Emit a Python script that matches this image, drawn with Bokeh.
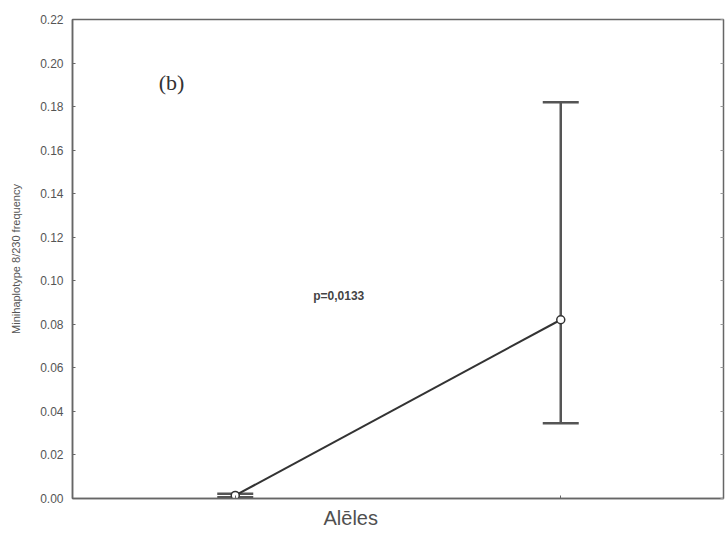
from bokeh.plotting import figure
from bokeh.models import Whisker, ColumnDataSource, LinearAxis, FixedTicker, Label, Range1d, TeeHead, Title
from bokeh.embed import file_html
from bokeh.resources import INLINE

# ---- data ----
groups = [1, 2]
means = [0.0014, 0.0821]
lower = [0.0006, 0.0346]
upper = [0.0022, 0.1820]
y_ticks = [0.00, 0.02, 0.04, 0.06, 0.08, 0.10, 0.12, 0.14, 0.16, 0.18, 0.20, 0.22]
y_tick_labels = ["0.00", "0.02", "0.04", "0.06", "0.08", "0.10", "0.12", "0.14", "0.16", "0.18", "0.20", "0.22"]
y_title = "Minihaplotype 8/230 frequency"
x_title = "Alēles"
p_text = "p=0,0133"
panel_text = "(b)"

src = ColumnDataSource(dict(x=groups, y=means, lo=lower, hi=upper))

p = figure(width=725, height=538, output_backend="svg", toolbar_location=None,
           x_range=Range1d(0.5, 2.5), y_range=Range1d(0, 0.22),
           min_border_left=72, min_border_top=19, min_border_right=2, min_border_bottom=40)
p.background_fill_color = "white"
p.border_fill_color = "white"
p.xgrid.visible = False
p.ygrid.visible = False
p.outline_line_color = "#666666"
p.outline_line_width = 1.5

axc = "#666666"
tc = "#555555"
font = "Liberation Sans"

ya = p.yaxis[0]
ya.ticker = FixedTicker(ticks=y_ticks)
ya.major_label_overrides = {t: l for t, l in zip(y_ticks, y_tick_labels)}
ya.major_tick_in = 3
ya.major_tick_out = 0
ya.minor_tick_in = 0
ya.minor_tick_out = 0
ya.major_label_standoff = 9
ya.major_label_text_font = font
ya.major_label_text_font_size = "12px"
ya.major_label_text_color = tc
ya.axis_line_color = axc
ya.axis_line_width = 1.5
ya.major_tick_line_color = axc
ya.axis_label = y_title
ya.axis_label_text_font = font
ya.axis_label_text_font_size = "11px"
ya.axis_label_text_font_style = "normal"
ya.axis_label_text_color = tc
ya.axis_label_standoff = 15

xa = p.xaxis[0]
xa.ticker = FixedTicker(ticks=groups)
xa.major_label_overrides = {g: "" for g in groups}
xa.major_label_standoff = 0
xa.major_tick_in = 3
xa.major_tick_out = 0
xa.minor_tick_in = 0
xa.minor_tick_out = 0
xa.axis_line_color = axc
xa.axis_line_width = 1.5
xa.major_tick_line_color = axc

ra = LinearAxis(ticker=FixedTicker(ticks=y_ticks),
                major_label_overrides={t: "" for t in y_ticks},
                major_label_standoff=0, major_tick_in=3, major_tick_out=0,
                minor_tick_in=0, minor_tick_out=0, axis_line_color=None,
                major_tick_line_color="#999999")
p.add_layout(ra, "right")

# x title as a left-aligned title below the frame
p.add_layout(Title(text=x_title, align="left", offset=251, standoff=13,
                   text_font=font, text_font_size="20px", text_font_style="normal",
                   text_color="#505050"), "below")

# connecting line
p.line("x", "y", source=src, line_color="#333333", line_width=2)

# error bars
w = Whisker(base="x", lower="lo", upper="hi", source=src, line_color="#555555", line_width=2.5,
            upper_head=TeeHead(size=36, line_color="#555555", line_width=2.5),
            lower_head=TeeHead(size=36, line_color="#555555", line_width=2.5))
p.add_layout(w)

p.scatter("x", "y", source=src, size=8, fill_color="white", line_color="#333333", line_width=1.5)

p.add_layout(Label(x=1.318, y=0.0932, text=p_text, text_align="center", text_baseline="middle",
                   text_font=font, text_font_size="12px", text_font_style="bold", text_color="#444444"))
p.add_layout(Label(x=0.804, y=0.191, text=panel_text, text_align="center", text_baseline="middle",
                   text_font="Liberation Serif", text_font_size="22px", text_color="#333333"))

open("out.html", "w").write(file_html(p, INLINE))
